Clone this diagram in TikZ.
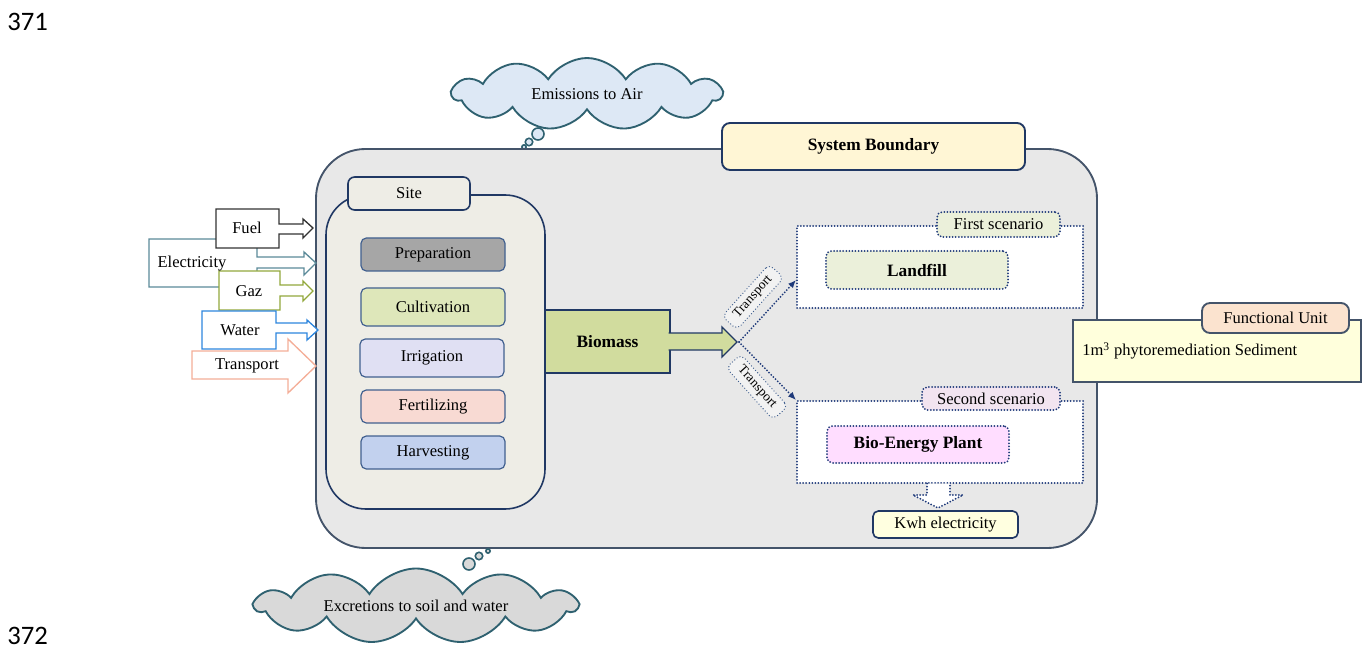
\documentclass[tikz,border=0pt]{standalone}
\usepackage{fontspec}
\setmainfont{Liberation Serif}
\newfontfamily\numfont{Carlito}
\usetikzlibrary{shapes.symbols,positioning,calc,arrows.meta}

\newcommand{\pxu}{0.75pt}

\definecolor{sysgray}{HTML}{E8E8E8}
\definecolor{slate}{HTML}{44546A}
\definecolor{navy}{HTML}{203864}
\definecolor{sitefill}{HTML}{EEEDE6}
\definecolor{procline}{HTML}{41608F}
\definecolor{prepfill}{HTML}{A6A6A6}
\definecolor{cultfill}{HTML}{DEE7BA}
\definecolor{irrifill}{HTML}{E0E0F3}
\definecolor{fertfill}{HTML}{F8DAD3}
\definecolor{harvfill}{HTML}{C2D1EE}
\definecolor{biofill}{HTML}{D1DC9E}
\definecolor{landfill}{HTML}{EBF0DA}
\definecolor{plantfill}{HTML}{FFDDFF}
\definecolor{scentwo}{HTML}{F2E4F0}
\definecolor{kwhfill}{HTML}{FFFFE0}
\definecolor{fufill}{HTML}{FFFFDC}
\definecolor{fulabel}{HTML}{FBE3CF}
\definecolor{sbfill}{HTML}{FFF6D5}
\definecolor{airfill}{HTML}{DDE8F5}
\definecolor{soilfill}{HTML}{D9D9D9}
\definecolor{cloudline}{HTML}{2F6170}
\definecolor{dotblue}{HTML}{1F3A7A}
\definecolor{transfill}{HTML}{F2F2F2}
\definecolor{fuelcol}{HTML}{333333}
\definecolor{eleccol}{HTML}{5B8A99}
\definecolor{gazcol}{HTML}{92A83C}
\definecolor{watercol}{HTML}{2E86DE}
\definecolor{transcol}{HTML}{F4AE98}

\tikzset{
  sized/.style 2 args={minimum width=#1*\pxu, minimum height=#2*\pxu, inner sep=0pt},
  procbox/.style={draw=procline, rounded corners=4pt, line width=0.9pt},
  dotline/.style={draw=dotblue, line width=1.5pt, line cap=round, dash pattern=on 0pt off 2.3pt},
  scenbox/.style={dotline, fill=white},
  scenlabel/.style={dotline, rounded corners=4pt},
  bubble/.style={draw=cloudline, line width=1.2pt},
  cloudbox/.style={cloud, cloud puffs=11, cloud puff arc=115, cloud ignores aspect,
    draw=cloudline, line width=1.4pt},
  inbox/.style={line width=1pt, fill=white},
}

\begin{document}
\begin{tikzpicture}[x=0.75pt,y=-0.75pt,font=\fontsize{12.4}{14}\selectfont]
  \useasboundingbox (0,0) rectangle (1365,649);

  % line numbers
  \node[anchor=west, inner sep=0pt, font=\numfont\fontsize{20}{22}\selectfont] (lnone) at (7,22) {371};
  \node[anchor=west, inner sep=0pt, font=\numfont\fontsize{20}{22}\selectfont] (lntwo) at (7,636) {372};

  % clouds
  \node[cloudbox, fill=airfill, sized={269}{72}] (air) at (587,94) {Emissions to Air};
  \draw[bubble, fill=airfill] (538,134) circle (4.5pt);
  \draw[bubble, fill=airfill] (529,142) circle (2.8pt);
  \draw[bubble, fill=airfill] (524,147) circle (1.6pt);

  % system boundary
  \node[sized={781}{399}, draw=slate, fill=sysgray, rounded corners=37pt, line width=1.4pt] (sys) at (706.5,348.5) {};
  \node[sized={303}{47}, draw=navy, fill=sbfill, rounded corners=6pt, line width=1.4pt, font=\fontsize{13}{15}\selectfont\bfseries] (sbtitle) at (873.5,146.5) {System Boundary};

  \node[cloudbox, fill=soilfill, sized={321}{75}] (soil) at (416,606) {Excretions to soil and water};
  \draw[bubble, fill=soilfill] (469,564) circle (4.5pt);
  \draw[bubble, fill=soilfill] (479,556) circle (2.8pt);
  \draw[bubble, fill=soilfill] (488,551) circle (1.6pt);

  % site
  \node[sized={219}{314}, draw=navy, fill=sitefill, rounded corners=30pt, line width=1.2pt] (site) at (435.5,352) {};
  \node[sized={122}{33}, draw=navy, fill=sitefill, rounded corners=5pt, line width=1.2pt] (sitelbl) at (409,193.5) {Site};

  \node[procbox, fill=prepfill, sized={144}{33}] (prep) at (433,254.5) {Preparation};
  \node[procbox, fill=cultfill, sized={144}{38}] (cult) at (433,307) {Cultivation};
  \node[procbox, fill=irrifill, sized={144}{38}] (irri) at (432,358) {Irrigation};
  \node[procbox, fill=fertfill, sized={144}{33}] (fert) at (433,406.5) {Fertilizing};
  \node[procbox, fill=harvfill, sized={144}{33}] (harv) at (433,452.5) {Harvesting};

  % inputs
  \draw[inbox, draw=eleccol] (149,239) -- (257,239) -- (257,257) -- (304,257) -- (304,252) -- (316,263)
    -- (304,275) -- (304,268) -- (257,268) -- (257,287) -- (149,287) -- cycle;
  \draw[inbox, draw=fuelcol] (216,209) -- (279,209) -- (279,224) -- (303,224) -- (303,219) -- (313,228)
    -- (303,238) -- (303,234) -- (279,234) -- (279,248) -- (216,248) -- cycle;
  \draw[inbox, draw=gazcol] (219,271) -- (280,271) -- (280,285) -- (303,285) -- (303,281) -- (313,291)
    -- (303,301) -- (303,296) -- (280,296) -- (280,310) -- (219,310) -- cycle;
  \draw[inbox, draw=watercol] (202,311) -- (276,311) -- (276,323) -- (307,323) -- (307,320) -- (318,330)
    -- (307,340) -- (307,333) -- (276,333) -- (276,349) -- (202,349) -- cycle;
  \draw[inbox, draw=transcol] (192,351) -- (288,351) -- (288,339) -- (316,366) -- (288,393)
    -- (288,379) -- (192,379) -- cycle;
  \node (fuel) at (247,228) {Fuel};
  \node (elec) at (192,264) {Electricity};
  \node (gaz) at (249,291) {Gaz};
  \node (water) at (240,330) {Water};
  \node (trans) at (247,366) {Transport};

  % biomass
  \node[sized={125}{63}, draw=navy, fill=biofill, line width=1pt, font=\fontsize{13}{15}\selectfont\bfseries] (bio) at (607.5,341.5) {Biomass};
  \draw[navy, fill=biofill, line width=1pt] (668.6,333) -- (722,333) -- (722,327) -- (737,342)
    -- (722,357) -- (722,350) -- (668.6,350);

  % scenarios
  \node[scenbox, sized={286}{82}] (scenone) at (940,267) {};
  \node[scenlabel, fill=landfill, sized={123}{25}] (scenonelbl) at (998.5,224.5) {First scenario};
  \node[scenlabel, fill=landfill, sized={182}{38}, font=\fontsize{13}{15}\selectfont\bfseries] (landf) at (917,270) {Landfill};

  \node[scenbox, sized={286}{82}] (scentwo) at (940,442) {};
  \node[scenlabel, fill=scentwo, sized={138}{23}] (scentwolbl) at (991,398.5) {Second scenario};
  \node[scenlabel, fill=plantfill, sized={182}{37}, font=\fontsize{13}{15}\selectfont\bfseries] (plant) at (918,444.5) {Bio-Energy Plant};

  \coordinate (fork) at (739,342);
  \draw[dotline, -{Latex[length=6pt,width=5pt]}] (fork) -- ([yshift=-9.75pt]scenone.west);
  \draw[dotline, -{Latex[length=6pt,width=5pt]}] (fork) -- (scentwo.north west);
  \node[scenlabel, fill=transfill, draw=procline, line width=1pt, sized={70}{20}, rotate=48, font=\fontsize{10}{12}\selectfont] (trone) at (753,297) {Transport};
  \node[scenlabel, fill=transfill, draw=procline, line width=1pt, sized={70}{20}, rotate=-48, font=\fontsize{10}{12}\selectfont] (trtwo) at (757,387) {Transport};

  % output
  \draw[dotline, fill=white] (927,483.5) -- (927,495) -- (913,495) -- (938,508) -- (963,495)
    -- (950,495) -- (950,483.5);
  \node[sized={145}{27}, draw=navy, fill=kwhfill, rounded corners=4pt, line width=1.2pt] (kwh) at (945.5,524.5) {Kwh electricity};

  % functional unit
  \node[sized={288}{62}, draw=slate, fill=fufill, line width=1.4pt] (fu) at (1217,351) {};
  \node[anchor=west, inner sep=0pt] (futext) at ([xshift=7.5pt]fu.west) {1m\textsuperscript{3} phytoremediation Sediment};
  \node[sized={147}{30}, draw=slate, fill=fulabel, rounded corners=6pt, line width=1.4pt] (fulbl) at (1275.5,318) {Functional Unit};
\end{tikzpicture}
\end{document}
